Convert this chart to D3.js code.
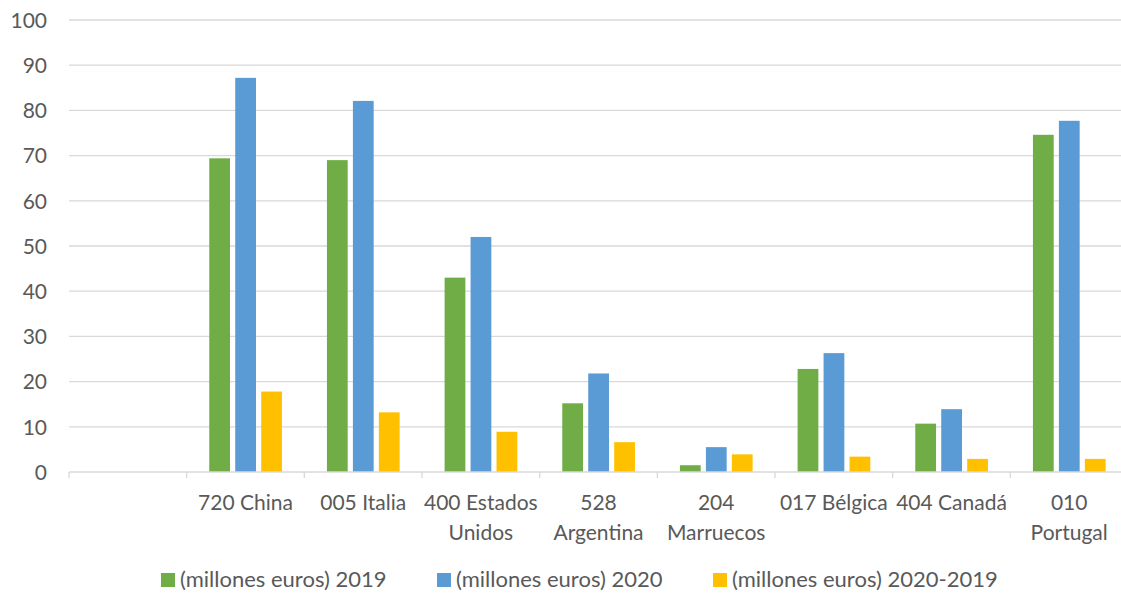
<!DOCTYPE html>
<html>
<head>
<meta charset="utf-8">
<script src="https://cdn.jsdelivr.net/npm/d3@7"></script>
<style>
  body { margin: 0; background: #fff; }
  svg { display: block; font-family: Lato, "Open Sans", sans-serif; }
</style>
</head>
<body>
<div id="chart"></div>
<script>
// categories (first one is blank in the original sheet)
var categories = ["", "720 China", "005 Italia", "400 Estados\nUnidos", "528\nArgentina",
	"204\nMarruecos", "017 Bélgica", "404 Canadá", "010\nPortugal"];
var series = ["(millones euros) 2019", "(millones euros) 2020", "(millones euros) 2020-2019"];
var values2019 = [null, 69.4, 69.0, 43.0, 15.2, 1.5, 22.8, 10.7, 74.6];
var values2020 = [null, 87.2, 82.1, 52.0, 21.8, 5.5, 26.3, 13.9, 77.7];
var valuesDiff = [null, 17.8, 13.2, 8.9, 6.6, 3.9, 3.4, 2.9, 2.9];
var yTicks = [0, 10, 20, 30, 40, 50, 60, 70, 80, 90, 100];
var colors = ["#70AD47", "#5B9BD5", "#FFC000"];

var width = 1121, height = 598;
var plotLeft = 69, plotRight = 1128, plotTop = 20, plotBottom = 472;
var fontSize = "21px";

var svg = d3.select("#chart").append("svg")
	.attr("width", width)
	.attr("height", height);

var x0 = d3.scaleBand().domain(categories).range([plotLeft, plotRight]).padding(0);
var x1 = d3.scaleBand().domain(series).range([22.6, 95.3]).paddingInner(0.2).paddingOuter(0);
var y = d3.scaleLinear().domain([0, 100]).range([plotBottom, plotTop]);

// gridlines
svg.append("g")
	.selectAll("line")
	.data(yTicks.filter(function (d) { return d > 0; }))
	.enter()
		.append("line")
		.attr("x1", plotLeft)
		.attr("x2", plotRight)
		.attr("y1", function (d) { return y(d); })
		.attr("y2", function (d) { return y(d); })
		.attr("stroke", "#d9d9d9")
		.attr("stroke-width", 1.3);

// y labels
var yAxis = svg.append("g")
	.attr("transform", "translate(" + (plotLeft - 22) + ",0)")
	.call(d3.axisLeft(y).tickValues(yTicks).tickSize(0).tickPadding(0));
yAxis.select(".domain").remove();
yAxis.selectAll("text")
	.attr("fill", "#595959")
	.style("font-family", "Lato, 'Open Sans', sans-serif")
	.style("font-size", fontSize)
	.attr("dy", "0.35em");

// bars
var rows = categories.map(function (c, i) {
	return { cat: c, vals: [values2019[i], values2020[i], valuesDiff[i]] };
});

var groups = svg.append("g")
	.selectAll("g")
	.data(rows)
	.enter()
		.append("g")
		.attr("transform", function (d) { return "translate(" + x0(d.cat) + ",0)"; });

groups.selectAll("rect")
	.data(function (d) {
		return d.vals.map(function (v, j) { return { s: series[j], v: v, j: j }; })
			.filter(function (e) { return e.v != null; });
	})
	.enter()
		.append("rect")
		.attr("x", function (d) { return x1(d.s); })
		.attr("width", x1.bandwidth())
		.attr("y", function (d) { return y(d.v); })
		.attr("height", function (d) { return y(0) - y(d.v); })
		.attr("fill", function (d) { return colors[d.j]; });

// x axis
var xAxis = svg.append("g")
	.attr("transform", "translate(0," + plotBottom + ")");
xAxis.append("line")
	.attr("x1", plotLeft).attr("x2", plotRight)
	.attr("stroke", "#d9d9d9").attr("stroke-width", 1.3);
xAxis.selectAll("line.tick")
	.data(categories)
	.enter()
		.append("line")
		.attr("class", "tick")
		.attr("x1", function (d) { return x0(d); })
		.attr("x2", function (d) { return x0(d); })
		.attr("y1", 0).attr("y2", 6)
		.attr("stroke", "#d9d9d9").attr("stroke-width", 1.3);

var labels = svg.append("g")
	.selectAll("text")
	.data(categories)
	.enter()
		.append("text")
		.attr("x", function (d) { return x0(d) + x0.bandwidth() / 2; })
		.attr("y", 510)
		.attr("text-anchor", "middle")
		.attr("fill", "#595959")
		.style("font-size", fontSize);
labels.selectAll("tspan")
	.data(function (d) { return d.split("\n"); })
	.enter()
		.append("tspan")
		.attr("x", function () { return d3.select(this.parentNode).attr("x"); })
		.attr("dy", function (d, i) { return i === 0 ? 0 : 30; })
		.text(function (d) { return d; });

// legend
var legendX = [161, 437, 713];
var legend = svg.append("g")
	.selectAll("g")
	.data(series)
	.enter()
		.append("g")
		.attr("transform", function (d, i) { return "translate(" + legendX[i] + ",573)"; });
legend.append("rect")
	.attr("width", 14).attr("height", 14)
	.attr("fill", function (d, i) { return colors[i]; });
legend.append("text")
	.attr("x", 19)
	.attr("y", 14)
	.attr("fill", "#595959")
	.style("font-size", "22px")
	.text(function (d) { return d; });
</script>
</body>
</html>
